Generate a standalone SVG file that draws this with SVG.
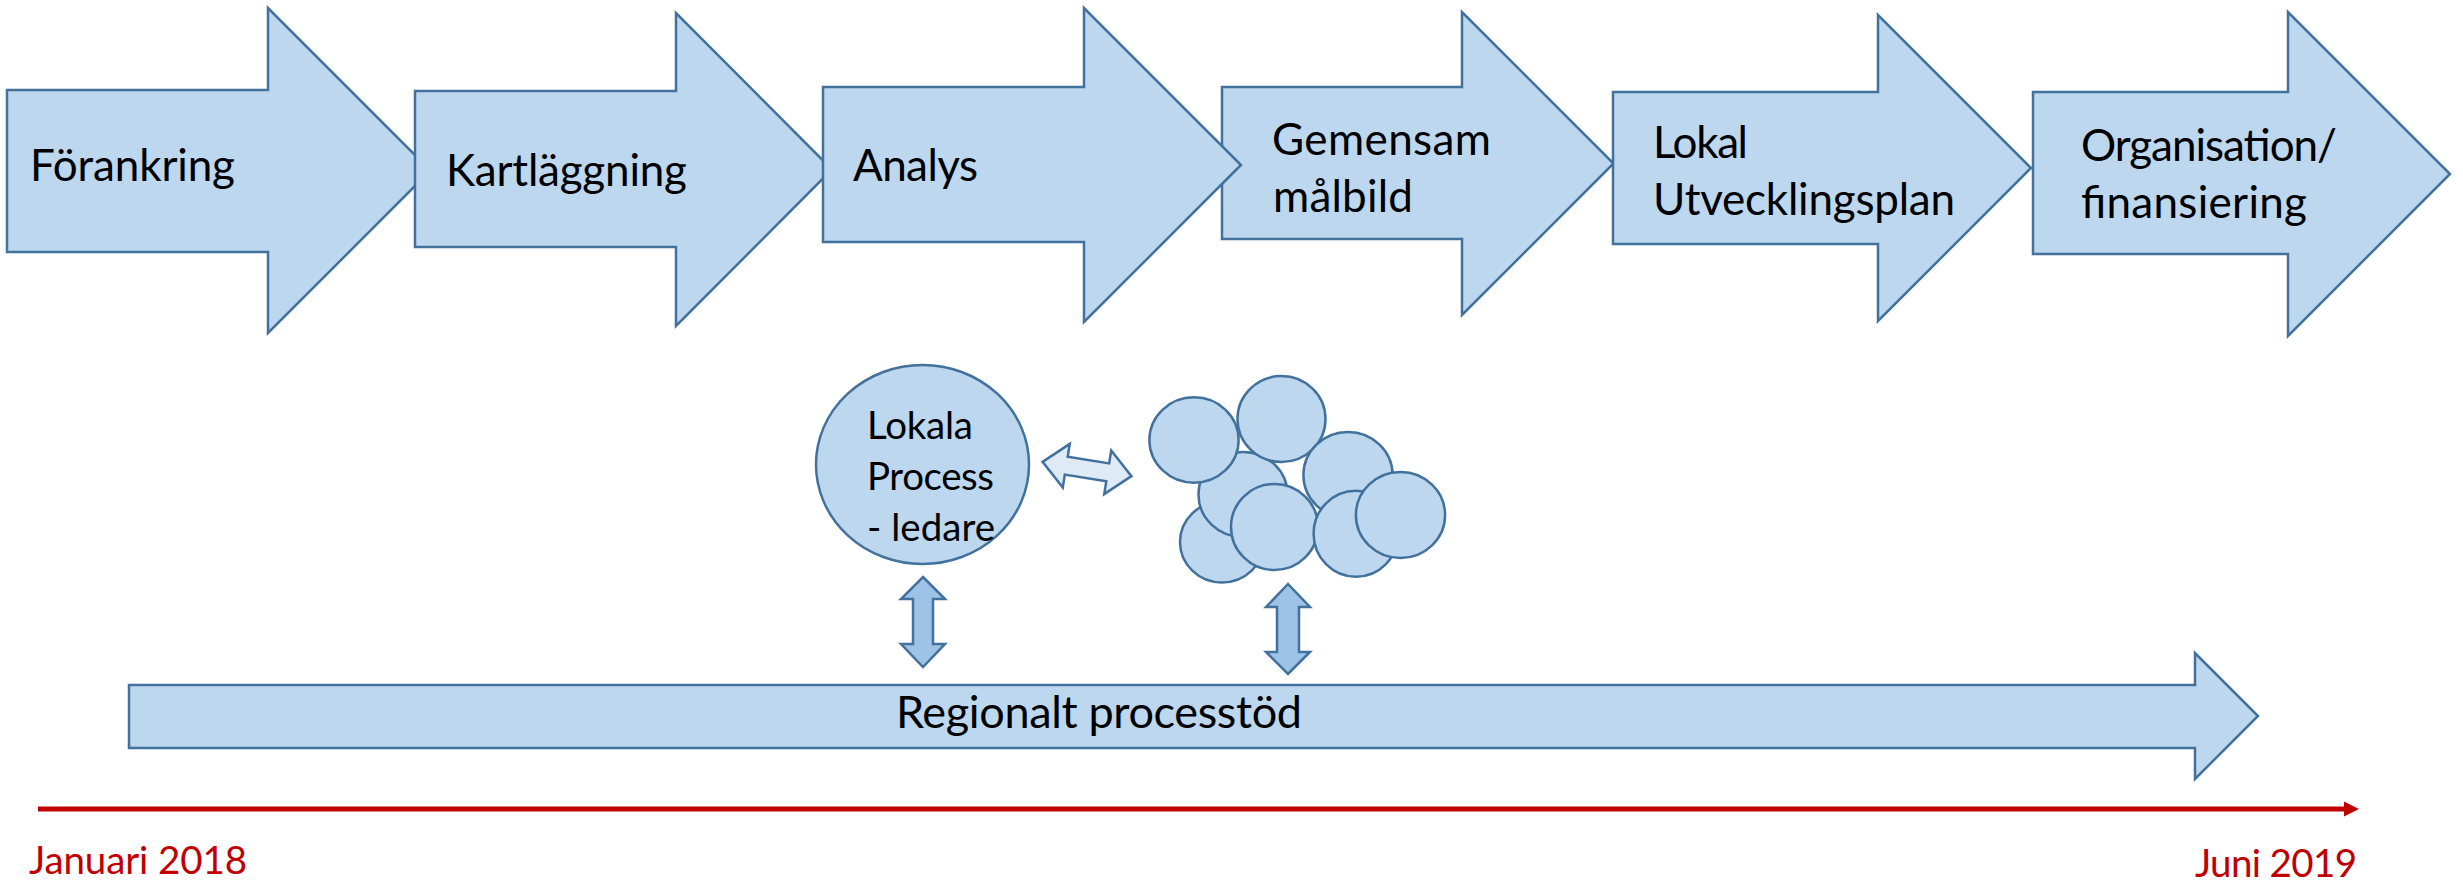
<svg xmlns="http://www.w3.org/2000/svg" width="2463" height="883" viewBox="0 0 2463 883">
<style>
.shape{fill:#bdd7ee;stroke:#41719c;stroke-width:2.5;stroke-linejoin:miter}
.dark{fill:#9dc3e6;stroke:#41719c;stroke-width:2.5}
.light{fill:#deebf7;stroke:#41719c;stroke-width:2.5}
.t{font-family:Lato,"Open Sans","Liberation Sans",sans-serif;fill:#000}
.big{font-size:44px}
.reg{font-size:45px}
.mid{font-size:38.5px}
.red{font-family:Lato,"Open Sans","Liberation Sans",sans-serif;fill:#c00000;font-size:38.5px}
</style>
<rect width="2463" height="883" fill="#fff"/>
<g id="phase1">
<polygon class="shape" points="7,90 268,90 268,8 430.5,170.5 268,333 268,252 7,252"/>
<text class="t big" x="30" y="181" textLength="205">Förankring</text>
</g>
<g id="phase2">
<polygon class="shape" points="415,91 676,91 676,13 832,169.5 676,326 676,247 415,247"/>
<text class="t big" x="446" y="186" textLength="241">Kartläggning</text>
</g>
<g id="phase4">
<polygon class="shape" points="1222,87 1462,87 1462,12 1613.5,163.5 1462,315 1462,239 1222,239"/>
<text class="t big" x="1272" y="155" textLength="219">Gemensam</text>
<text class="t big" x="1273" y="212" textLength="140">målbild</text>
</g>
<g id="phase3">
<polygon class="shape" points="823,87 1084,87 1084,8 1241,165 1084,322 1084,242 823,242"/>
<text class="t big" x="853" y="181" textLength="125">Analys</text>
</g>
<g id="phase5">
<polygon class="shape" points="1613,92 1878,92 1878,15 2031,168 1878,321 1878,244 1613,244"/>
<text class="t big" x="1653" y="158" textLength="95">Lokal</text>
<text class="t big" x="1653" y="215" textLength="302">Utvecklingsplan</text>
</g>
<g id="phase6">
<polygon class="shape" points="2033,92 2288,92 2288,12 2450,174 2288,336 2288,254 2033,254"/>
<text class="t big" x="2081" y="161" textLength="256">Organisation/</text>
<text class="t big" x="2081" y="218" textLength="226">finansiering</text>
</g>
<g id="lokala">
<ellipse class="shape" cx="922.5" cy="464.5" rx="106.5" ry="99.5"/>
<text class="t mid" x="867" y="439" textLength="106">Lokala</text>
<text class="t mid" x="867" y="490" textLength="127">Process</text>
<text class="t mid" x="867" y="541" textLength="128">- ledare</text>
</g>
<g id="cluster">
<ellipse class="shape" cx="1222" cy="542" rx="42" ry="40.5"/>
<ellipse class="shape" cx="1243" cy="494.5" rx="44.5" ry="42.5"/>
<ellipse class="shape" cx="1194" cy="440" rx="44.6" ry="42.7"/>
<ellipse class="shape" cx="1281.5" cy="419" rx="44" ry="43"/>
<ellipse class="shape" cx="1348" cy="475" rx="44.6" ry="43"/>
<ellipse class="shape" cx="1274.5" cy="527" rx="43.5" ry="43"/>
<ellipse class="shape" cx="1356" cy="533.7" rx="42.4" ry="43"/>
<ellipse class="shape" cx="1400.5" cy="515" rx="44.6" ry="43"/>
</g>
<g id="regional">
<polygon class="shape" points="129,685 2195,685 2195,653 2258,716 2195,779 2195,748 129,748"/>
<text class="t reg" x="896" y="728" textLength="406">Regionalt processtöd</text>
</g>
<g id="connectors">
<polygon class="light" transform="translate(1087,469) rotate(9.1)" points="-45,0 -21,-22 -21,-9 21,-9 21,-22 45,0 21,22 21,9 -21,9 -21,22"/>
<polygon class="dark" points="923,577 945,599 933,599 933,644 945,644 923,667 901,644 913,644 913,599 901,599"/>
<polygon class="dark" points="1288,584 1310,607 1299,607 1299,652 1310,652 1288,674 1266,652 1277,652 1277,607 1266,607"/>
</g>
<g id="timeline">
<line x1="38" y1="809" x2="2346" y2="809" stroke="#c00000" stroke-width="5"/>
<polygon points="2344,801.5 2359,809 2344,816.5" fill="#c00000"/>
<text class="red" x="29" y="874" textLength="218">Januari 2018</text>
<text class="red" x="2195" y="877" textLength="162">Juni 2019</text>
</g>
</svg>
